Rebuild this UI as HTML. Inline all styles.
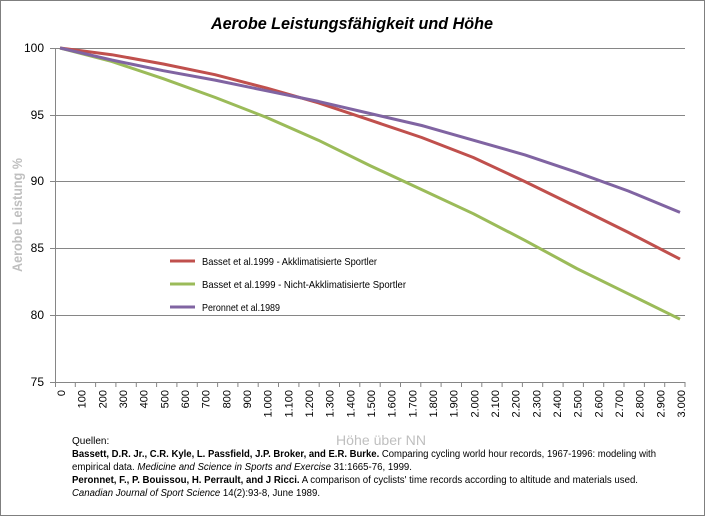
<!DOCTYPE html>
<html><head><meta charset="utf-8"><style>
body{margin:0;background:#fff}
svg{display:block;font-family:"Liberation Sans",sans-serif}
</style></head><body>
<svg width="705" height="516" viewBox="0 0 705 516">
<rect x="0.5" y="0.5" width="704" height="515" fill="#fff" stroke="#7f7f7f"/>
<text x="352" y="29" text-anchor="middle" font-size="17" font-weight="bold" font-style="italic" textLength="282" lengthAdjust="spacingAndGlyphs">Aerobe Leistungsfähigkeit und Höhe</text>
<g stroke="#868686" stroke-width="1">
<line x1="55" y1="48.5" x2="685" y2="48.5"/>
<line x1="55" y1="115.5" x2="685" y2="115.5"/>
<line x1="55" y1="181.5" x2="685" y2="181.5"/>
<line x1="55" y1="248.5" x2="685" y2="248.5"/>
<line x1="55" y1="315.5" x2="685" y2="315.5"/>
<line x1="55" y1="382.5" x2="685" y2="382.5"/>
<line x1="55.5" y1="48" x2="55.5" y2="387"/>
<line x1="50" y1="48.5" x2="55" y2="48.5"/><line x1="50" y1="115.5" x2="55" y2="115.5"/><line x1="50" y1="181.5" x2="55" y2="181.5"/><line x1="50" y1="248.5" x2="55" y2="248.5"/><line x1="50" y1="315.5" x2="55" y2="315.5"/><line x1="50" y1="382.5" x2="55" y2="382.5"/>
<path d="M75.3 382v5M95.6 382v5M115.9 382v5M136.3 382v5M156.6 382v5M176.9 382v5M197.3 382v5M217.6 382v5M237.9 382v5M258.2 382v5M278.5 382v5M298.9 382v5M319.2 382v5M339.5 382v5M359.8 382v5M380.2 382v5M400.5 382v5M420.8 382v5M441.1 382v5M461.5 382v5M481.8 382v5M502.1 382v5M522.4 382v5M542.7 382v5M563.1 382v5M583.4 382v5M603.7 382v5M624 382v5M644.4 382v5M664.7 382v5M685 382v5"/>
</g>
<g font-size="12" text-anchor="end" fill="#000">
<text x="44" y="52">100</text><text x="44" y="119">95</text><text x="44" y="185">90</text><text x="44" y="252">85</text><text x="44" y="319">80</text><text x="44" y="386">75</text>
</g>
<g font-size="11" text-anchor="end">
<text transform="translate(65,390) rotate(-90)">0</text>
<text transform="translate(85.7,390) rotate(-90)">100</text>
<text transform="translate(106.3,390) rotate(-90)">200</text>
<text transform="translate(127,390) rotate(-90)">300</text>
<text transform="translate(147.7,390) rotate(-90)">400</text>
<text transform="translate(168.3,390) rotate(-90)">500</text>
<text transform="translate(189,390) rotate(-90)">600</text>
<text transform="translate(209.7,390) rotate(-90)">700</text>
<text transform="translate(230.3,390) rotate(-90)">800</text>
<text transform="translate(251,390) rotate(-90)">900</text>
<text transform="translate(271.7,390) rotate(-90)">1.000</text>
<text transform="translate(292.3,390) rotate(-90)">1.100</text>
<text transform="translate(313,390) rotate(-90)">1.200</text>
<text transform="translate(333.7,390) rotate(-90)">1.300</text>
<text transform="translate(354.3,390) rotate(-90)">1.400</text>
<text transform="translate(375,390) rotate(-90)">1.500</text>
<text transform="translate(395.7,390) rotate(-90)">1.600</text>
<text transform="translate(416.3,390) rotate(-90)">1.700</text>
<text transform="translate(437,390) rotate(-90)">1.800</text>
<text transform="translate(457.7,390) rotate(-90)">1.900</text>
<text transform="translate(478.3,390) rotate(-90)">2.000</text>
<text transform="translate(499,390) rotate(-90)">2.100</text>
<text transform="translate(519.7,390) rotate(-90)">2.200</text>
<text transform="translate(540.3,390) rotate(-90)">2.300</text>
<text transform="translate(561,390) rotate(-90)">2.400</text>
<text transform="translate(581.7,390) rotate(-90)">2.500</text>
<text transform="translate(602.3,390) rotate(-90)">2.600</text>
<text transform="translate(623,390) rotate(-90)">2.700</text>
<text transform="translate(643.7,390) rotate(-90)">2.800</text>
<text transform="translate(664.3,390) rotate(-90)">2.900</text>
<text transform="translate(685,390) rotate(-90)">3.000</text>
</g>
<polyline fill="none" stroke="#c0504d" stroke-width="3" stroke-linejoin="round" points="60,48 111.7,54.7 163.3,64 215,74.7 266.7,88.1 318.3,102.8 370,120.1 421.7,137.5 473.3,157.5 525,181.6 576.7,206.9 628.3,232.4 680,259.1"/>
<polyline fill="none" stroke="#9bbb59" stroke-width="3" stroke-linejoin="round" points="60,48 111.7,61.4 163.3,78.7 215,97.4 266.7,117.5 318.3,140.2 370,165.6 421.7,189.6 473.3,213.7 525,240.4 576.7,268.5 628.3,293.8 680,319.2"/>
<polyline fill="none" stroke="#8064a2" stroke-width="3" stroke-linejoin="round" points="60,48 111.7,60 163.3,70.7 215,80.1 266.7,90.8 318.3,101.4 370,113.5 421.7,125.5 473.3,140.2 525,154.9 576.7,172.3 628.3,191 680,212.4"/>
<g font-size="10.5">
<line x1="170" y1="261" x2="195" y2="261" stroke="#c0504d" stroke-width="3"/><text x="202" y="265" textLength="175" lengthAdjust="spacingAndGlyphs">Basset et al.1999 - Akklimatisierte Sportler</text>
<line x1="170" y1="284" x2="195" y2="284" stroke="#9bbb59" stroke-width="3"/><text x="202" y="288" textLength="204" lengthAdjust="spacingAndGlyphs">Basset et al.1999 - Nicht-Akklimatisierte Sportler</text>
<line x1="170" y1="307" x2="195" y2="307" stroke="#8064a2" stroke-width="3"/><text x="202" y="311" textLength="78" lengthAdjust="spacingAndGlyphs">Peronnet et al.1989</text>
</g>
<text transform="translate(22,215) rotate(-90)" text-anchor="middle" font-size="14" font-weight="bold" fill="#bfbfbf" textLength="114" lengthAdjust="spacingAndGlyphs">Aerobe Leistung %</text>
<text x="381" y="445" text-anchor="middle" font-size="14" fill="#bfbfbf" textLength="90" lengthAdjust="spacingAndGlyphs">Höhe über NN</text>
<g font-size="10">
<text x="72" y="444">Quellen:</text>
<text x="72" y="457" textLength="584" lengthAdjust="spacingAndGlyphs"><tspan font-weight="bold">Bassett, D.R. Jr., C.R. Kyle, L. Passfield, J.P. Broker, and E.R. Burke.</tspan>  Comparing cycling world hour records, 1967-1996: modeling with</text>
<text x="72" y="470" textLength="340" lengthAdjust="spacingAndGlyphs">empirical data.  <tspan font-style="italic">Medicine and Science in Sports and Exercise</tspan> 31:1665-76, 1999.</text>
<text x="72" y="483" textLength="566" lengthAdjust="spacingAndGlyphs"><tspan font-weight="bold">Peronnet, F., P. Bouissou, H. Perrault, and J Ricci.</tspan>  A comparison of cyclists' time records according to altitude and materials used.</text>
<text x="72" y="496" font-style="italic" textLength="248" lengthAdjust="spacingAndGlyphs">Canadian Journal of Sport Science <tspan font-style="normal">14(2):93-8, June 1989.</tspan></text>
</g>
</svg>
</body></html>
